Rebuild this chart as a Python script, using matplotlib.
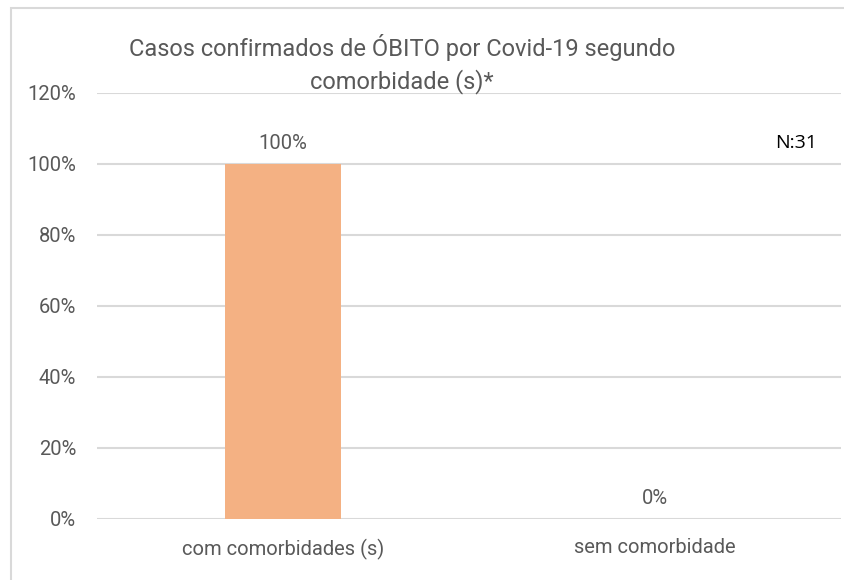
import matplotlib
matplotlib.use("Agg")
import matplotlib.pyplot as plt
from matplotlib.patches import Rectangle
from matplotlib.ticker import PercentFormatter

# Data
categories = ["com comorbidades (s)", "sem comorbidade"]
values = [100, 0]
labels = ["100%", "0%"]
yticks = [0, 20, 40, 60, 80, 100, 120]

plt.rcParams["font.family"] = ["Roboto", "DejaVu Sans"]
grey = "#595959"

fig = plt.figure(figsize=(8.45, 5.8), dpi=100)
ax = fig.add_axes([0.1148, 0.1052, 0.8802, 0.7345])

x = range(len(categories))
ax.bar(x, values, width=0.31, color="#F4B183", zorder=2)

for xi, v, lab in zip(x, values, labels):
    ax.text(xi, v + 3, lab, ha="center", va="bottom", fontsize=14.5, color=grey)

ax.set_xlim(-0.5, 1.5)
ax.set_ylim(0, 120)
ax.set_yticks(yticks)
ax.yaxis.set_major_formatter(PercentFormatter(decimals=0))
ax.set_xticks(list(x))
ax.set_xticklabels(categories)
ax.tick_params(axis="both", length=0, labelsize=14.5, labelcolor=grey)
ax.tick_params(axis="y", pad=15)
ax.tick_params(axis="x", pad=14)
ax.grid(axis="y", color="#D9D9D9", linewidth=1.5, zorder=0)
ax.set_axisbelow(True)
for s in ax.spines.values():
    s.set_visible(False)

# N label
ax.text(1.38, 103.5, "N:31", ha="center", va="bottom", fontsize=14,
        color="black", family=["Open Sans", "DejaVu Sans"])

fig.text(0.476, 0.89, "Casos confirmados de ÓBITO por Covid-19 segundo\ncomorbidade (s)*",
         ha="center", va="center", fontsize=17, color=grey, linespacing=1.4)

# chart border (only top and left edges visible in the crop)
fig.add_artist(Rectangle((11 / 845, -0.1), 1.2, 1 - 8 / 580 + 0.1,
                         transform=fig.transFigure, fill=False,
                         edgecolor="#D9D9D9", linewidth=1.5))

fig.savefig("out.png", dpi=100)
